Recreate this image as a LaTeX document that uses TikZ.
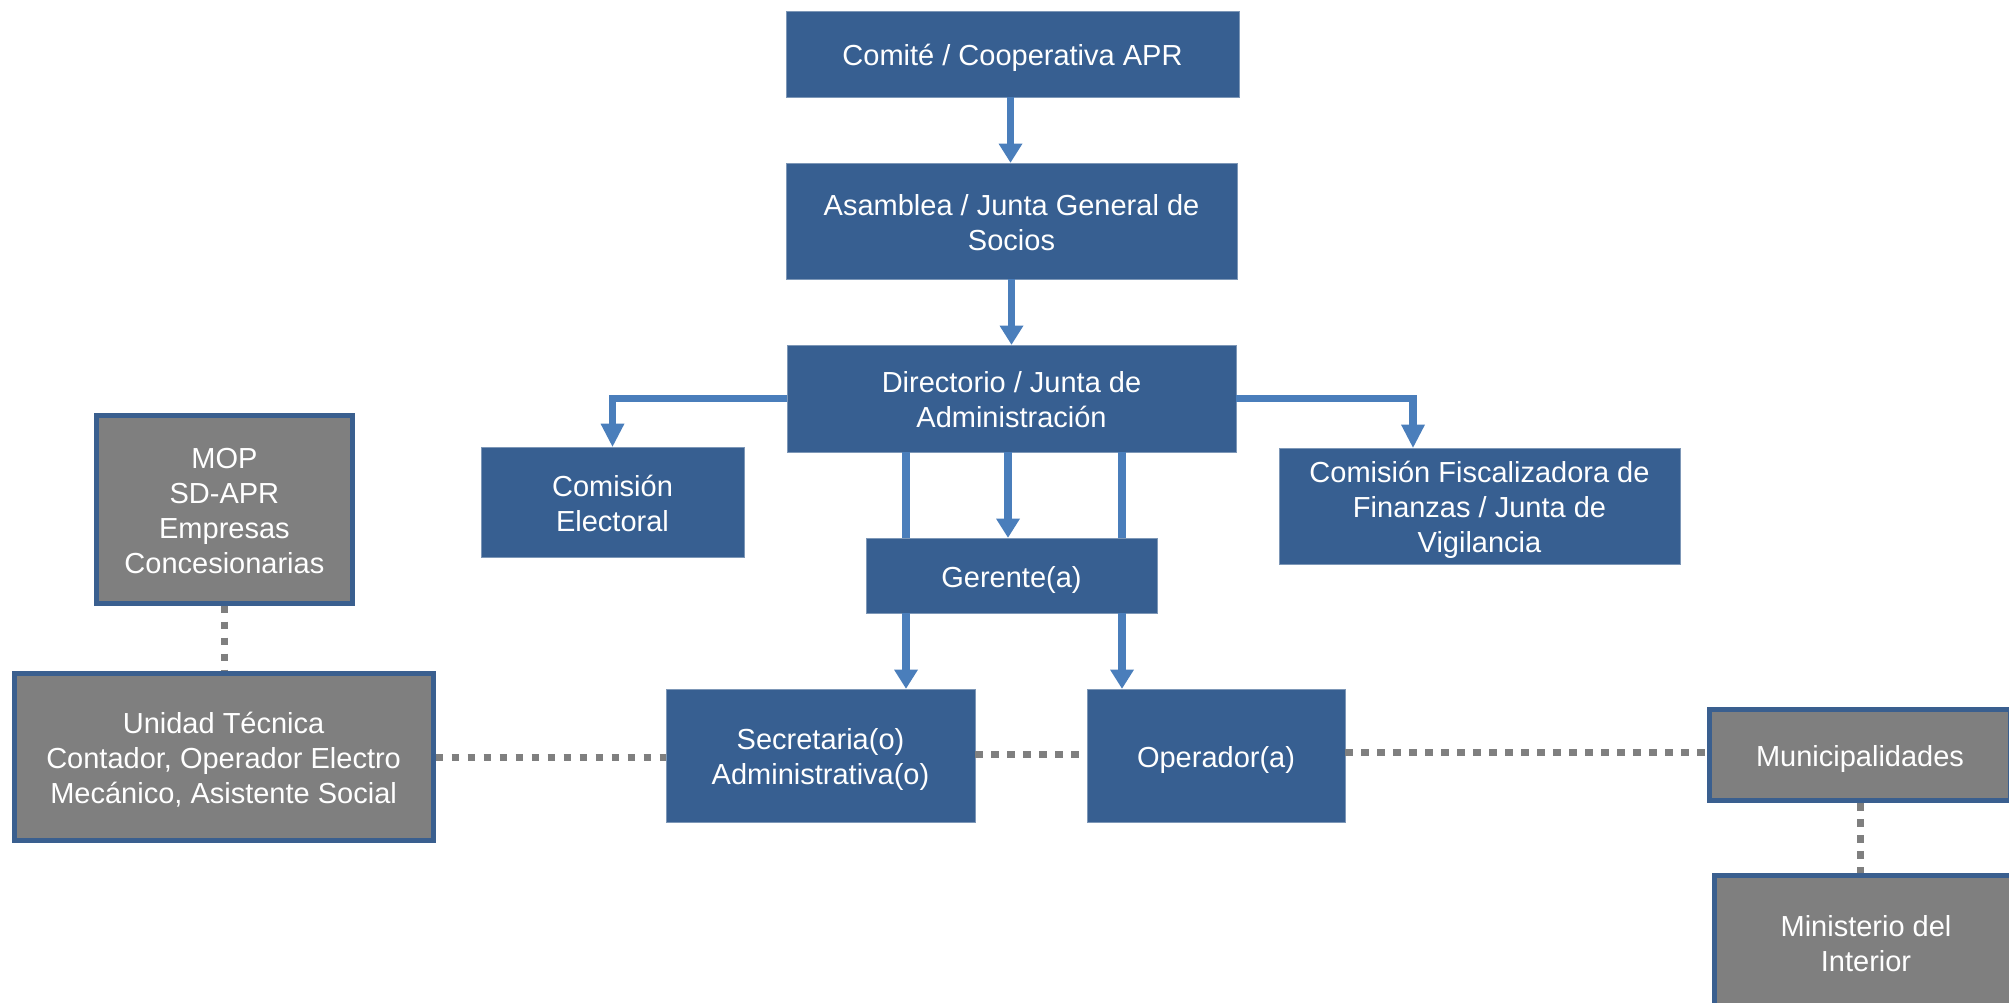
\documentclass[tikz,border=0pt]{standalone}
\usepackage{fontspec}
\setmainfont{Liberation Sans}
\usetikzlibrary{arrows.meta}
\definecolor{boxblue}{RGB}{55,95,145}
\definecolor{arrowblue}{RGB}{74,126,187}
\definecolor{boxgray}{RGB}{127,127,127}
\definecolor{edgeblue}{RGB}{58,95,143}
\newcommand\mlines[1]{\begin{tabular}[t]{@{}c@{}}#1\end{tabular}}
\begin{document}
\begin{tikzpicture}[x=1pt,y=-1pt,
  every node/.style={font=\fontsize{29}{35}\selectfont, text=white, inner sep=0pt, text height=23.5pt},
  one/.style={text depth=0pt},
  two/.style={text depth=35pt},
  three/.style={text depth=70pt},
  bluebox/.style={fill=boxblue, draw=boxblue!65!white, line width=0.8pt},
  graybox/.style={fill=boxgray, draw=edgeblue, line width=5pt},
  arr/.style={draw=arrowblue, line width=7.5pt, -{Triangle[width=24pt,length=19pt,line width=0pt]}},
  elbow/.style={draw=arrowblue, line width=7.5pt, -{Triangle[width=24pt,length=23pt,line width=0pt]}},
  lnk/.style={draw=arrowblue, line width=7.5pt},
  dots/.style={draw=boxgray, line width=7pt, dash pattern=on 7.5pt off 8.5pt}]
\path[use as bounding box] (0,0) rectangle (2009,1002);
\clip (0,0) rectangle (2009,1002);
\renewcommand\arraystretch{1}
% blue boxes
\node[bluebox, one, minimum width=453pt, minimum height=86pt] (comite) at (1012.5,54) {Comité / Cooperativa APR};
\node[bluebox, two, minimum width=451pt, minimum height=116pt] (asamblea) at (1011.5,221) {\mlines{Asamblea / Junta General de\\Socios}};
\node[bluebox, two, minimum width=449pt, minimum height=107pt] (dir) at (1011.5,398.5) {\mlines{Directorio / Junta de\\Administración}};
\node[bluebox, two, minimum width=263pt, minimum height=110pt] (ce) at (612.5,502) {\mlines{Comisión\\Electoral}};
\node[bluebox, three, minimum width=401pt, minimum height=116pt] (cf) at (1479.5,506) {\mlines{Comisión Fiscalizadora de\\Finanzas / Junta de\\Vigilancia}};
\node[bluebox, one, minimum width=291pt, minimum height=75pt] (ger) at (1011.5,575.5) {Gerente(a)};
\node[bluebox, two, minimum width=309pt, minimum height=133pt] (sec) at (820.5,755.5) {\mlines{Secretaria(o)\\Administrativa(o)}};
\node[bluebox, one, minimum width=258pt, minimum height=133pt] (op) at (1216,755.5) {Operador(a)};

% gray boxes
\node[graybox, text depth=105pt, minimum width=256pt, minimum height=188pt] (mop) at (224.4,509.2) {\mlines{MOP\\SD-APR\\Empresas\\Concesionarias}};
\node[graybox, three, minimum width=419pt, minimum height=167.6pt] (ut) at (223.6,757) {\mlines{Unidad Técnica\\Contador, Operador Electro\\Mecánico, Asistente Social}};
\node[graybox, one, minimum width=301pt, minimum height=91pt] (muni) at (1860,755) {Municipalidades};
\node[graybox, two, minimum width=303pt, minimum height=133pt] (min) at (1866,942) {\mlines{Ministerio del\\Interior}};

% blue connectors
\draw[arr] ([xshift=-2pt]comite.south) -- ([xshift=-2pt]comite.south |- asamblea.north);
\draw[arr] (asamblea.south) -- (asamblea.south |- dir.north);
\draw[elbow] (dir.west) -| (ce.north);
\draw[elbow] (dir.east) -| ([xshift=-66.5pt]cf.north);
\draw[arr] ([xshift=-3.5pt]dir.south) -- ([xshift=-3.5pt]ger.north);
\draw[lnk] ([xshift=-105.5pt]dir.south) -- ([xshift=-105.5pt]ger.north);
\draw[lnk] ([xshift=110.5pt]dir.south) -- ([xshift=110.5pt]ger.north);
\draw[arr] ([xshift=-105.5pt]ger.south) -- ([xshift=-105.5pt]ger.south |- sec.north);
\draw[arr] ([xshift=110.5pt]ger.south) -- ([xshift=110.5pt]ger.south |- op.north);

% dotted connectors
\draw[dots] (mop.south) -- (mop.south |- ut.north);
\draw[dots] (ut.east) -- (ut.east -| sec.west);
\draw[dots] ([yshift=1.5pt]sec.east) -- ([yshift=1.5pt]sec.east -| op.west);
\draw[dots] ([yshift=3.5pt]op.east) -- ([yshift=3.5pt]op.east -| muni.west);
\draw[dots] (muni.south) -- (muni.south |- min.north);
\end{tikzpicture}
\end{document}
